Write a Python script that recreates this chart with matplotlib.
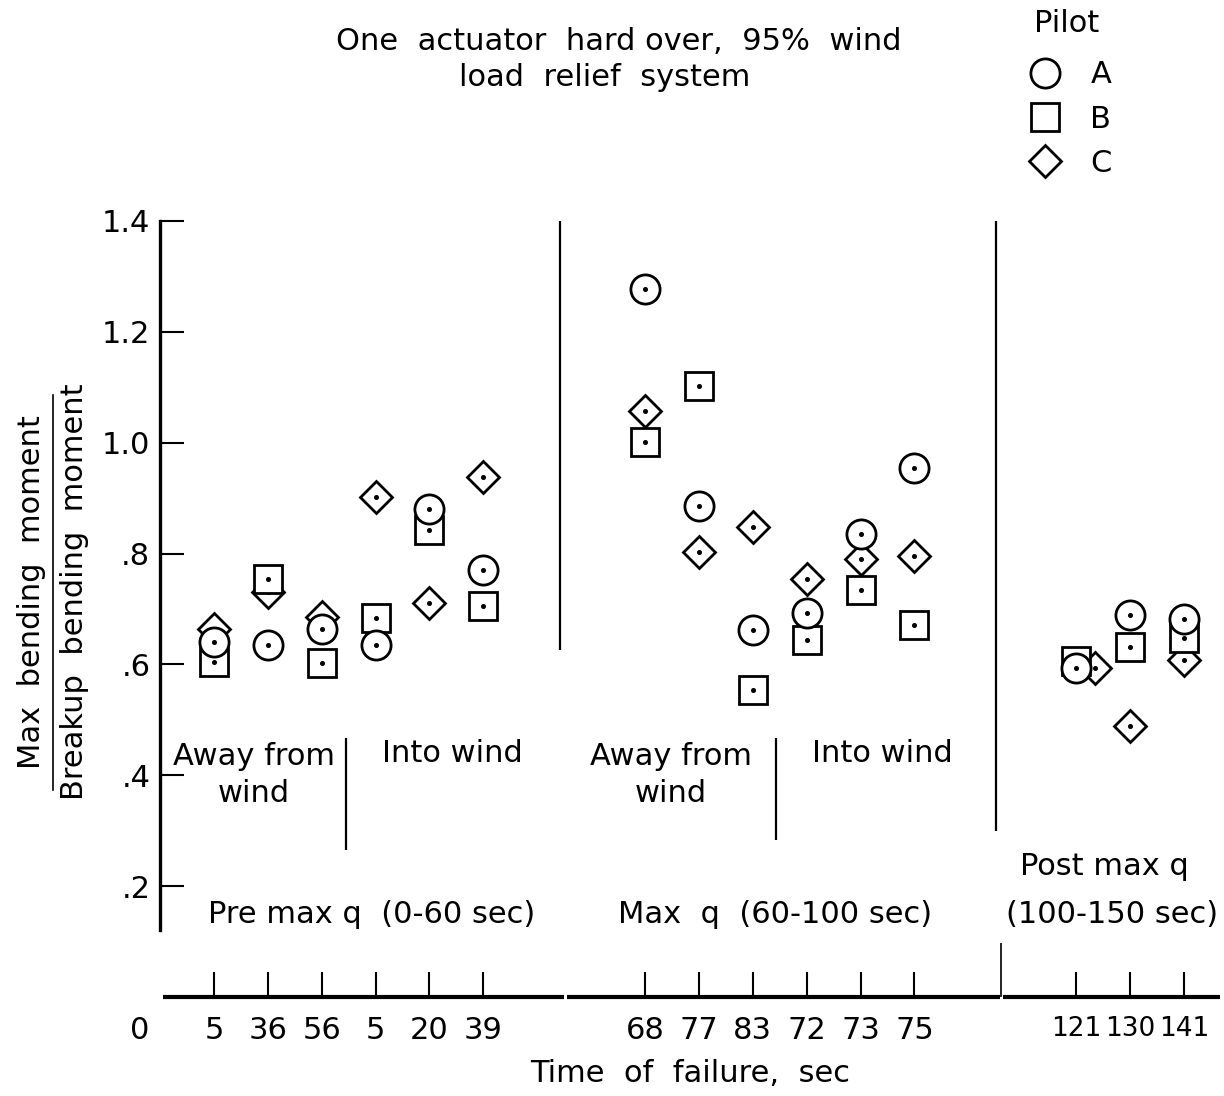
import matplotlib
matplotlib.use("Agg")
import matplotlib.pyplot as plt
from matplotlib.lines import Line2D

# Failure times (tick labels) for each flight regime
pre_max_q_times = ["5", "36", "56", "5", "20", "39"]
max_q_times = ["68", "77", "83", "72", "73", "75"]
post_max_q_times = ["121", "130", "141"]

# Max bending moment / breakup bending moment, one value per failure case
pilot_a = [0.640, 0.635, 0.664, 0.635, 0.880, 0.771,
           1.278, 0.885, 0.662, 0.693, 0.835, 0.955,
           0.593, 0.690, 0.682]
pilot_b = [0.604, 0.755, 0.603, 0.683, 0.842, 0.706,
           1.002, 1.103, 0.554, 0.644, 0.735, 0.671,
           0.606, 0.631, 0.647]
pilot_c = [0.664, 0.730, 0.685, 0.902, 0.711, 0.938,
           1.057, 0.803, 0.848, 0.755, 0.790, 0.796,
           0.593, 0.489, 0.608]

y_ticks = [0.2, 0.4, 0.6, 0.8, 1.0, 1.2, 1.4]
y_tick_labels = [".2", ".4", ".6", ".8", "1.0", "1.2", "1.4"]

# ---- layout: regimes placed side by side with two empty slots between them
groups = [pre_max_q_times, max_q_times, post_max_q_times]
positions, labels = [], []
slot = 1
for g in groups:
    for lab in g:
        positions.append(slot)
        labels.append(lab)
        slot += 1
    slot += 2

# small horizontal nudge so overlapping symbols stay readable
nudge_c = [0.0] * len(positions)
nudge_c[12] = 0.35

W, H = 1224, 1096
plt.rcParams["font.family"] = ["DejaVu Sans"]
fig = plt.figure(figsize=(W / 100, H / 100), dpi=100)
ax = fig.add_axes([160 / W, (H - 997) / H, 1060 / W, 776 / H])
ax.set_xlim(0, 19.67)
ax.set_ylim(0, 1.4)

FS = 22

for s in ("top", "right", "bottom"):
    ax.spines[s].set_visible(False)
ax.spines["left"].set_bounds(0.12, 1.4)
ax.spines["left"].set_linewidth(2.4)

ax.set_yticks(y_ticks, y_tick_labels)
ax.tick_params(axis="y", direction="in", length=17, width=1.5, pad=7,
               labelsize=FS)
ax.set_xticks(positions, labels)
ax.tick_params(axis="x", direction="in", length=18, width=1.5, pad=14,
               labelsize=FS)
# three-digit times are set a little smaller so they stay apart
for t in ax.get_xticklabels():
    if len(t.get_text()) > 2:
        t.set_fontsize(19)

# broken baseline
for x0, x1 in [(0.05, 7.50), (7.56, 15.58), (15.64, 19.67)]:
    ax.hlines(0, x0, x1, color="black", lw=3.0, clip_on=False, zorder=2)

# regime dividers
ax.vlines(7.43, 0.626, 1.4, color="black", lw=1.6)
ax.vlines(15.52, 0.30, 1.4, color="black", lw=1.6)
ax.vlines(15.60, 0.0, 0.097, color="black", lw=1.2)
ax.vlines(3.45, 0.265, 0.467, color="black", lw=1.6)
ax.vlines(11.43, 0.283, 0.467, color="black", lw=1.6)

# data symbols (open with a centre dot)
common = dict(linestyle="none", markerfacecolor="white",
              markeredgecolor="black", markeredgewidth=2.0, clip_on=False)
xc = [p + n for p, n in zip(positions, nudge_c)]
ax.plot(xc, pilot_c, marker="D", markersize=16, zorder=3, **common)
ax.plot(xc, pilot_c, marker="o", markersize=2.6, color="black",
        linestyle="none", zorder=3.1)
ax.plot(positions, pilot_b, marker="s", markersize=20.5, zorder=4, **common)
ax.plot(positions, pilot_b, marker="o", markersize=2.6, color="black",
        linestyle="none", zorder=4.1)
ax.plot(positions, pilot_a, marker="o", markersize=21, zorder=5, **common)
ax.plot(positions, pilot_a, marker="o", markersize=2.6, color="black",
        linestyle="none", zorder=5.1)

# region annotations
txt = dict(ha="center", va="center", fontsize=FS, linespacing=1.35)
ax.text(1.74, 0.40, "Away from\nwind", **txt)
ax.text(5.42, 0.44, "Into wind", **txt)
ax.text(9.48, 0.40, "Away from\nwind", **txt)
ax.text(13.40, 0.44, "Into wind", **txt)
ax.text(3.93, 0.148, "Pre max q  (0-60 sec)", **txt)
ax.text(11.41, 0.148, "Max  q  (60-100 sec)", **txt)
ax.text(17.53, 0.236, "Post max q", **txt)
ax.text(17.66, 0.148, "(100-150 sec)", **txt)

# origin label
ax.annotate("0", xy=(0, 0), xycoords="data", xytext=(-14.5, -14),
            textcoords="offset points", ha="center", va="top", fontsize=FS)

ax.set_xlabel("Time  of  failure,  sec", fontsize=FS)
ax.xaxis.set_label_coords(0.5, -0.08)

# stacked ratio label on the y axis
fig.text(32 / W, 1 - 592 / H, "Max  bending  moment", rotation=90,
         ha="center", va="center", fontsize=FS)
fig.text(75 / W, 1 - 592 / H, "Breakup  bending  moment", rotation=90,
         ha="center", va="center", fontsize=FS)
fig.add_artist(Line2D([53 / W, 53 / W], [1 - 395 / H, 1 - 790 / H],
                      transform=fig.transFigure, color="black", lw=1.2))

# title
fig.text(619 / W, 1 - 42 / H, "One  actuator  hard over,  95%  wind",
         ha="center", va="center", fontsize=FS)
fig.text(605 / W, 1 - 78 / H, "load  relief  system",
         ha="center", va="center", fontsize=FS)

# legend
fig.text(1067 / W, 1 - 23 / H, "Pilot", ha="center", va="center",
         fontsize=FS)
handles = [
    Line2D([], [], marker="o", markersize=21, **common),
    Line2D([], [], marker="s", markersize=20.5, **common),
    Line2D([], [], marker="D", markersize=16, **common),
]
leg = fig.legend(handles, ["A", "B", "C"],
                 loc="upper left", bbox_to_anchor=(1011 / W, 1 - 45 / H),
                 frameon=False, fontsize=FS,
                 handlelength=1.2, handletextpad=0.9, labelspacing=0.5,
                 borderpad=0.0)

fig.savefig("out.png", dpi=100, facecolor="white")
